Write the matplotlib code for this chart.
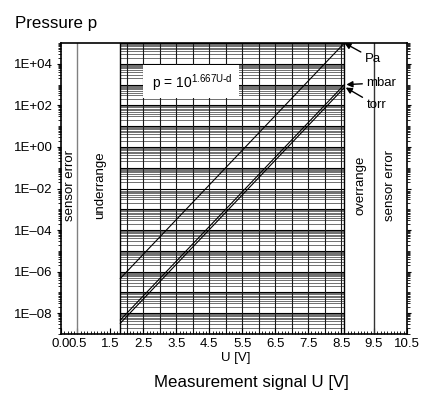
import numpy as np
import matplotlib
matplotlib.use("Agg")
import matplotlib.pyplot as plt
from matplotlib.patches import Rectangle
from matplotlib.ticker import FixedLocator, LogLocator, NullFormatter, FixedFormatter

plt.rcParams['font.family'] = ['Liberation Sans', 'DejaVu Sans']

# ---- data ----
U_range = [1.8, 8.6]              # measuring range of signal U [V]
p_pa = [4.7e-7, 1.0e5]            # Pa
p_mbar = [4.7e-9, 1.0e3]          # mbar
p_torr = [3.3e-9, 7.2e2]          # torr
unit_labels = ["Pa", "mbar", "torr"]
x_tick_vals = [0.0, 0.5, 1.5, 2.5, 3.5, 4.5, 5.5, 6.5, 7.5, 8.5, 9.5, 10.5]
x_tick_labels = ["0.0", "0.5", "1.5", "2.5", "3.5", "4.5", "5.5", "6.5", "7.5", "8.5", "9.5", "10.5"]
y_label_vals = [1e4, 1e2, 1e0, 1e-2, 1e-4, 1e-6, 1e-8]
y_label_texts = ["1E+04", "1E+02", "1E+00", "1E\u201302", "1E\u201304", "1E\u201306", "1E\u201308"]
region_bounds = [0.5, 1.8, 8.6, 9.5]
region_texts = ["sensor error", "underrange", "overrange", "sensor error"]

W, H = 430, 394
fig = plt.figure(figsize=(W / 100, H / 100), dpi=100)
ax = fig.add_axes([61 / W, 1 - 334 / H, 346 / W, 291 / H])
ax.set_xlim(0, 10.5)
ax.set_yscale('log')
ax.set_ylim(1e-9, 1e5)

# grid inside measuring range
x0, x1 = U_range
minor_y = [m * 10.0 ** e for e in range(-9, 5) for m in range(2, 10)]
major_y = [10.0 ** e for e in range(-9, 6)]
ax.hlines(minor_y, x0, x1, color='0.22', lw=0.5, zorder=1)
ax.hlines(major_y, x0, x1, color='black', lw=0.8, zorder=1)
vx = np.arange(2.0, 8.55, 0.5)
ax.vlines(vx, 1e-9, 1e5, color='0.1', lw=0.8, zorder=1)

# region separators
ax.axvline(region_bounds[0], color='0.5', lw=1.0, zorder=2)
ax.axvline(region_bounds[1], color='black', lw=1.0, zorder=2)
ax.axvline(region_bounds[2], color='black', lw=1.0, zorder=2)
ax.axvline(region_bounds[3], color='0.2', lw=1.0, zorder=2)

# formula box
ax.add_patch(Rectangle((2.5, 10 ** 2.36), 2.9, 10 ** 3.94 - 10 ** 2.36,
                       facecolor='white', edgecolor='none', zorder=3))
ax.text(2.75, 10 ** 3.1, r'p = 10$^{\mathregular{1.667U\text{-}d}}$', fontsize=10,
        va='center', ha='left', zorder=4)

# lines
for vals in (p_pa, p_mbar, p_torr):
    ax.plot(U_range, vals, color='black', lw=0.8, zorder=5)

# region labels
centers = [0.27, 1.2, 9.1, 9.98]
for cx, t in zip(centers, region_texts):
    ax.text(cx, 10 ** -1.85, t, rotation=90, fontsize=9.5, ha='center', va='center', zorder=4)

# annotations
arrow = dict(arrowstyle='-|>', color='black', lw=1.0, mutation_scale=9, shrinkA=1, shrinkB=0)
ax.annotate(unit_labels[0], xy=(U_range[1], p_pa[1]), xytext=(9.22, 10 ** 4.25),
            fontsize=9.5, va='center', ha='left', arrowprops=arrow, annotation_clip=False, zorder=6)
ax.annotate(unit_labels[1], xy=(8.66, p_mbar[1]), xytext=(9.27, 10 ** 3.08),
            fontsize=9.5, va='center', ha='left', arrowprops=arrow, annotation_clip=False, zorder=6)
ax.annotate(unit_labels[2], xy=(8.64, p_torr[1]), xytext=(9.27, 10 ** 2.0),
            fontsize=9.5, va='center', ha='left', arrowprops=arrow, annotation_clip=False, zorder=6)

# ticks
ax.xaxis.set_major_locator(FixedLocator(x_tick_vals))
ax.xaxis.set_major_formatter(FixedFormatter(x_tick_labels))
ax.xaxis.set_minor_locator(FixedLocator(np.arange(0, 10.51, 0.1)))
ax.yaxis.set_major_locator(FixedLocator(y_label_vals))
ax.yaxis.set_major_formatter(FixedFormatter(y_label_texts))
ax.yaxis.set_minor_locator(LogLocator(base=10, subs=np.arange(1, 10), numticks=50))
ax.yaxis.set_minor_formatter(NullFormatter())
ax.tick_params(axis='x', which='major', direction='in', length=4, width=0.8, labelsize=9.5, pad=3)
ax.tick_params(axis='x', which='minor', direction='in', length=2, width=0.6)
ax.tick_params(axis='y', which='major', direction='out', length=3, width=0.8, labelsize=9.5, pad=3,
               right=True)
ax.tick_params(axis='y', which='minor', direction='out', length=2, width=0.6, right=True)
for s in ax.spines.values():
    s.set_linewidth(1.2)

fig.text(236 / W, 1 - 358 / H, 'U [V]', fontsize=9.5, ha='center', va='center')
fig.text(251 / W, 1 - 383 / H, 'Measurement signal U [V]', fontsize=12.2, ha='center', va='center')
fig.text(15 / W, 1 - 28 / H, 'Pressure p', fontsize=12.2, ha='left', va='baseline')

fig.savefig('out.png', dpi=100)
